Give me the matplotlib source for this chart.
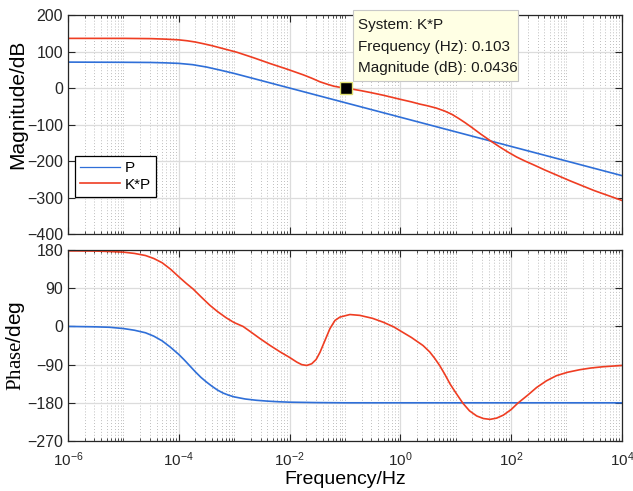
"""
Bode plot of P and K*P (magnitude and phase)
"""
import matplotlib
matplotlib.use('Agg')
import matplotlib.pyplot as plt
import numpy as np
from matplotlib.patches import Rectangle
from matplotlib.ticker import LogLocator, NullFormatter

# ---- data (frequency given as log10 of Hz) ----
p_mag_exp = [-6, -5, -4.5, -4.25, -4, -3.75, -3.5, -3.25, -3, -2.75, -2.5, -2.25,
             -2, -1, 0, 1, 2, 3, 4]
p_mag_db = [71, 70.5, 70, 69, 67.5, 64, 57.5, 49, 40, 30, 20, 10,
            0, -40, -80, -120, -160, -200, -240]

kp_mag_exp = [-6, -5, -4.5, -4.25, -4, -3.85, -3.7, -3.56, -3.4, -3.25, -3.1, -2.95,
              -2.65, -2.35, -2.05, -1.75, -1.6, -1.45, -1.3, -1.2, -1.1, -0.99,
              -0.85, -0.7, -0.55, -0.3, 0, 0.2, 0.35, 0.5, 0.65, 0.8, 0.93, 1.05,
              1.17, 1.3, 1.45, 1.65, 1.8, 1.95, 2.1, 2.25, 2.4, 2.6, 2.8, 3.06,
              3.5, 4]
kp_mag_db = [136, 136, 135.3, 134, 132, 129.5, 126, 121.5, 116, 110, 104, 98,
             83, 67, 52, 36, 27, 17, 9.5, 5, 2.2, 0,
             -3.5, -7.5, -12, -20, -31, -38, -44, -49, -55, -63, -72, -83,
             -95, -109, -126, -147, -162, -176, -189, -200, -210, -224, -237, -254,
             -281, -308]

p_phase_exp = [-6, -5.5, -5.25, -5, -4.8, -4.6, -4.45, -4.3, -4.15, -4, -3.9, -3.8,
               -3.7, -3.6, -3.5, -3.4, -3.3, -3.2, -3.1, -3, -2.8, -2.6, -2.4, -2.2,
               -2, -1.5, -1, 4]
p_phase_deg = [0, -1, -2, -5, -9, -15, -23, -34, -49, -66, -79, -93,
               -107, -120, -131, -141, -150, -157, -162, -166, -171, -174, -176, -177.5,
               -178.5, -179.5, -180, -180]

kp_phase_exp = [-6, -5.5, -5.25, -5, -4.8, -4.6, -4.45, -4.3, -4.15, -4, -3.87, -3.74,
                -3.6, -3.44, -3.3, -3.14, -3, -2.84, -2.71, -2.53, -2.35, -2.17, -2,
                -1.87, -1.78, -1.69, -1.6, -1.52, -1.45, -1.36, -1.27, -1.18, -1.09,
                -0.91, -0.73, -0.5, -0.31, -0.12, 0.02, 0.2, 0.41, 0.53, 0.62, 0.71,
                0.8, 0.9, 1.01, 1.13, 1.25, 1.38, 1.5, 1.62, 1.74, 1.86, 2.0, 2.12,
                2.3, 2.46, 2.64, 2.82, 3.02, 3.24, 3.44, 3.66, 4]
kp_phase_deg = [178, 177.5, 176.5, 175, 172, 167, 160, 150, 135, 117, 102, 88,
                70, 50, 35, 20, 9, 0, -12, -29, -45, -60, -73,
                -84, -90, -92, -88, -78, -61, -33, -5, 14, 22,
                28, 26, 19, 10, -1, -12, -26, -45, -60, -75, -92,
                -112, -136, -158, -181, -199, -211, -217, -219, -216, -209, -196, -181,
                -162, -144, -128, -116, -108, -102, -98, -95, -92]

tip_freq = 0.103
tip_mag = 0.0436

mag_ticks = [200, 100, 0, -100, -200, -300, -400]
phase_ticks = [180, 90, 0, -90, -180, -270]
freq_ticks = [1e-6, 1e-4, 1e-2, 1e0, 1e2, 1e4]

BLUE = '#2f6fd8'
RED = '#ef3d22'

plt.rcParams['font.family'] = ['Liberation Sans', 'DejaVu Sans']
plt.rcParams['mathtext.fontset'] = 'custom'
plt.rcParams['mathtext.rm'] = 'Liberation Serif'

fig = plt.figure(figsize=(6.33, 4.91), dpi=100)
ax1 = fig.add_axes([0.1074, 0.5234, 0.875, 0.446])
ax2 = fig.add_axes([0.1074, 0.1018, 0.875, 0.389])


def style_axis(ax):
    ax.set_xscale('log')
    ax.set_xlim(1e-6, 1e4)
    ax.set_xticks(freq_ticks)
    ax.xaxis.set_minor_locator(LogLocator(base=10, subs=np.arange(1, 10), numticks=100))
    ax.xaxis.set_minor_formatter(NullFormatter())
    ax.grid(True, which='major', color='#dcdcdc', linewidth=0.9, linestyle='-')
    ax.grid(True, which='minor', axis='x', color='#a8a8a8', linewidth=0.6,
            linestyle=(0, (1, 2.5)))
    ax.set_axisbelow(True)
    ax.tick_params(which='both', direction='in', top=True, right=True,
                   colors='#262626')
    ax.tick_params(axis='y', labelsize=11.5)
    ax.tick_params(axis='x', labelsize=11, pad=7)
    ax.tick_params(which='major', length=5, width=0.8)
    ax.tick_params(which='minor', length=2.5, width=0.6)
    for s in ax.spines.values():
        s.set_color('#262626')
        s.set_linewidth(0.9)


# 幅值
ax1.plot(10.0 ** np.array(p_mag_exp), p_mag_db, color=BLUE, linewidth=1.2, label='P')
ax1.plot(10.0 ** np.array(kp_mag_exp), kp_mag_db, color=RED, linewidth=1.2, label='K*P')
ax1.plot([tip_freq], [tip_mag], marker='s', markersize=8.5, color='black',
         markeredgecolor='#e0e070', markeredgewidth=1.0, zorder=5)
style_axis(ax1)
ax1.set_ylim(-400, 200)
ax1.set_yticks(mag_ticks)
ax1.tick_params(axis='x', labelbottom=False)
ax1.set_ylabel('Magnitude/dB', fontsize=15)
ax1.yaxis.set_label_coords(-0.074, 0.594)

leg = ax1.legend(loc='lower left', bbox_to_anchor=(0.0126, 0.169), borderaxespad=0,
                 fontsize=11, handlelength=2.6, labelspacing=0.15, fancybox=False,
                 framealpha=1, edgecolor='black', borderpad=0.35, handletextpad=0.3)
leg.get_frame().set_linewidth(0.9)
leg.get_lines()[0].set_linewidth(0.9)

# 相位
ax2.plot(10.0 ** np.array(p_phase_exp), p_phase_deg, color=BLUE, linewidth=1.2)
ax2.plot(10.0 ** np.array(kp_phase_exp), kp_phase_deg, color=RED, linewidth=1.2)
style_axis(ax2)
ax2.set_ylim(-270, 180)
ax2.set_yticks(phase_ticks)
ax2.set_ylabel(r'$\mathrm{Phase}$/deg', fontsize=15)
ax2.yaxis.set_label_coords(-0.074, 0.5)
ax2.set_xlabel('Frequency/Hz', fontsize=14, labelpad=1)

# data tip
fig.patches.append(Rectangle((0.5577, 0.835), 0.2607, 0.1446, transform=fig.transFigure,
                             facecolor='#ffffe4', edgecolor='#c8c8c8', linewidth=0.8,
                             zorder=10))
tip_lines = ['System: K*P', 'Frequency (Hz): %.3f' % tip_freq, 'Magnitude (dB): %.4f' % tip_mag]
for i, line in enumerate(tip_lines):
    fig.text(358 / 633, 1 - (25 + 21.7 * i) / 491, line, fontsize=11, va='center',
             ha='left', color='#1a1a1a', zorder=11)

plt.savefig('out.png', dpi=100)
plt.close()
